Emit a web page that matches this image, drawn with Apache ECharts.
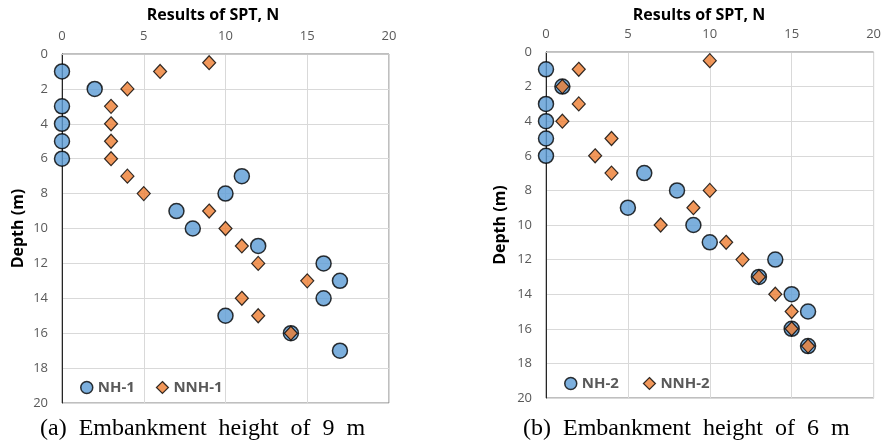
<!DOCTYPE html>
<html>
<head>
<meta charset="utf-8">
<script src="https://cdn.jsdelivr.net/npm/echarts@6/dist/echarts.min.js"></script>
<style>
  html, body { margin: 0; padding: 0; background: #fff; }
  #chart { width: 884px; height: 447px; }
</style>
</head>
<body>
<div id="chart"></div>
<script>
// SPT blow counts (N) against depth (m) for the two embankment sections
const depthNH1 = [1, 2, 3, 4, 5, 6, 7, 8, 9, 10, 11, 12, 13, 14, 15, 16, 17];
const nNH1 = [0, 2, 0, 0, 0, 0, 11, 10, 7, 8, 12, 16, 17, 16, 10, 14, 17];
const depthNNH1 = [0.5, 1, 2, 3, 4, 5, 6, 7, 8, 9, 10, 11, 12, 13, 14, 15, 16];
const nNNH1 = [9, 6, 4, 3, 3, 3, 3, 4, 5, 9, 10, 11, 12, 15, 11, 12, 14];

const depthNH2 = [1, 2, 3, 4, 5, 6, 7, 8, 9, 10, 11, 12, 13, 14, 15, 16, 17];
const nNH2 = [0, 1, 0, 0, 0, 0, 6, 8, 5, 9, 10, 14, 13, 15, 16, 15, 16];
const depthNNH2 = [0.5, 1, 2, 3, 4, 5, 6, 7, 8, 9, 10, 11, 12, 13, 14, 15, 16, 17];
const nNNH2 = [10, 2, 1, 2, 1, 4, 3, 4, 10, 9, 7, 11, 12, 13, 14, 15, 15, 16];

const seriesNames = ['NH-1', 'NNH-1', 'NH-2', 'NNH-2'];
const xAxisTitle = 'Results of SPT, N';
const yAxisTitle = 'Depth (m)';
const captions = ['(a)  Embankment  height  of  9  m', '(b)  Embankment  height  of  6  m'];

const pairs = (xs, ys) => xs.map((x, i) => [x, ys[i]]);

const chart = echarts.init(document.getElementById('chart'), null, { renderer: 'canvas' });

const gridBox = [
  { left: 62, top: 54, width: 327, height: 349 },
  { left: 546, top: 52, width: 331, height: 346 }
];
const yNameGap = [36, 38];
const xTitleCenter = [213, 699];

const tickFont = { color: '#595959', fontSize: 13, fontFamily: 'Open Sans' };
const titleFont = { color: '#000', fontSize: 16, fontWeight: 'bold', fontFamily: 'Open Sans' };

function xAxisFor(i) {
  return {
    gridIndex: i, type: 'value', position: 'top', min: 0, max: 20, interval: 5,
    axisLine: { show: true, lineStyle: { color: '#c8c8c8', width: 1 } },
    axisTick: { show: false },
    axisLabel: Object.assign({ margin: 11 }, tickFont),
    splitLine: { show: true, lineStyle: { color: '#d9d9d9', width: 1 } }
  };
}
function yAxisFor(i) {
  return {
    gridIndex: i, type: 'value', inverse: true, min: 0, max: 20, interval: 2,
    name: yAxisTitle, nameLocation: 'middle', nameGap: yNameGap[i], nameRotate: 90,
    nameTextStyle: titleFont,
    axisLine: { show: true, onZero: false, lineStyle: { color: '#262626', width: 1 } },
    axisTick: { show: false },
    axisLabel: Object.assign({ margin: 14 }, tickFont),
    splitLine: { show: true, lineStyle: { color: '#d9d9d9', width: 1 } }
  };
}

const circleStyle = { color: '#5B9BD5', borderColor: '#000', borderWidth: 1.5 };
const diamondStyle = { color: '#ED7D31', borderColor: '#000', borderWidth: 1.2 };

function scatter(name, gi, data, isCircle) {
  return {
    name, type: 'scatter', xAxisIndex: gi, yAxisIndex: gi,
    symbol: isCircle ? 'circle' : 'diamond',
    symbolSize: isCircle ? 15 : [13, 14],
    itemStyle: isCircle ? circleStyle : diamondStyle,
    data,
    z: isCircle ? 3 : 4
  };
}

const legendText = { color: '#595959', fontSize: 15, fontWeight: 'bold', fontFamily: 'Open Sans' };

chart.setOption({
  animation: false,
  backgroundColor: '#fff',
  grid: gridBox.map(g => Object.assign({ show: true, borderColor: '#7f7f7f', borderWidth: 1, backgroundColor: 'transparent' }, g)),
  xAxis: [xAxisFor(0), xAxisFor(1)],
  yAxis: [yAxisFor(0), yAxisFor(1)],
  legend: [
    {
      data: [
        { name: seriesNames[0], icon: 'circle', itemStyle: circleStyle },
        { name: seriesNames[1], icon: 'diamond', itemStyle: diamondStyle }
      ],
      left: 75, top: 375, itemWidth: 12, itemHeight: 12, itemGap: 21, textStyle: legendText
    },
    {
      data: [
        { name: seriesNames[2], icon: 'circle', itemStyle: circleStyle },
        { name: seriesNames[3], icon: 'diamond', itemStyle: diamondStyle }
      ],
      left: 559, top: 371, itemWidth: 12, itemHeight: 12, itemGap: 24, textStyle: legendText
    }
  ],
  series: [
    scatter(seriesNames[0], 0, pairs(nNH1, depthNH1), true),
    scatter(seriesNames[1], 0, pairs(nNNH1, depthNNH1), false),
    scatter(seriesNames[2], 1, pairs(nNH2, depthNH2), true),
    scatter(seriesNames[3], 1, pairs(nNNH2, depthNNH2), false)
  ],
  graphic: [
    // axis titles above each panel
    ...xTitleCenter.map(cx => ({
      type: 'text', x: cx, y: 15,
      style: { text: xAxisTitle, font: 'bold 16px "Open Sans"', fill: '#000', align: 'center', verticalAlign: 'middle' }
    })),
    { type: 'text', left: 40, top: 417, style: { text: captions[0], font: '24px "Liberation Serif"', fill: '#000' } },
    { type: 'text', left: 523, top: 417, style: { text: captions[1], font: '24px "Liberation Serif"', fill: '#000' } }
  ]
});
</script>
</body>
</html>
